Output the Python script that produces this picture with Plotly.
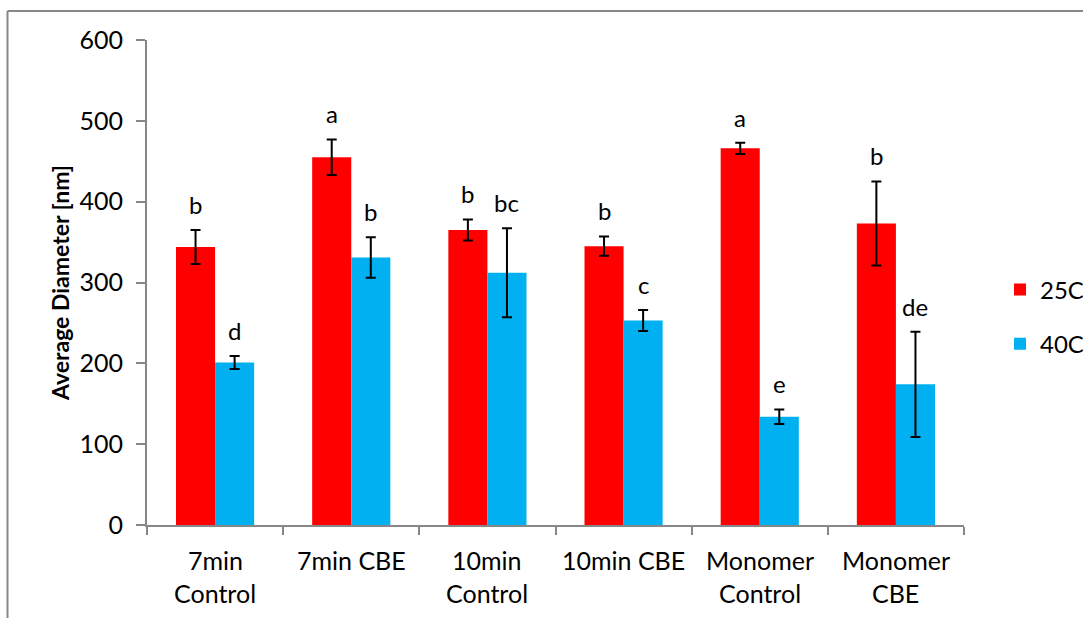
import plotly.graph_objects as go

categories = ["7min\nControl", "7min CBE", "10min\nControl", "10min CBE", "Monomer\nControl", "Monomer\nCBE"]
series_names = ["25C", "40C"]
values_25 = [344, 455, 365, 345, 466, 373]
errors_25 = [21, 22, 13, 12, 7, 52]
values_40 = [201, 331, 312, 253, 134, 174]
errors_40 = [8, 25, 55, 13, 9, 65]
letters_25 = ["b", "a", "b", "b", "a", "b"]
letters_40 = ["d", "b", "bc", "c", "e", "de"]
y_ticks = [0, 100, 200, 300, 400, 500, 600]

FONT = "Lato"
RED = "#FF0000"
BLUE = "#00B0F0"
GRAY = "#878787"

W, H = 1083, 618
L, R, T, B = 147, 119, 40, 93
PW, PH = W - L - R, H - T - B

fig = go.Figure()
fig.add_trace(go.Bar(
    x=categories, y=values_25, name=series_names[0], marker=dict(color=RED, line=dict(width=0)),
    error_y=dict(type="data", array=errors_25, color="black", thickness=2, width=5),
    legendgroup="a"))
fig.add_trace(go.Bar(
    x=categories, y=values_40, name=series_names[1], marker=dict(color=BLUE, line=dict(width=0)),
    error_y=dict(type="data", array=errors_40, color="black", thickness=2, width=5),
    legendgroup="b"))

annotations = []
barw_px = PW / len(categories) * (1 - 0.426) / 2
for i, c in enumerate(categories):
    for vals, errs, letters, sgn in ((values_25, errors_25, letters_25, -1), (values_40, errors_40, letters_40, 1)):
        annotations.append(dict(
            x=c, y=vals[i] + errs[i], xref="x", yref="y", text=letters[i], showarrow=False,
            xshift=sgn * barw_px / 2, yshift=9, yanchor="bottom",
            font=dict(family=FONT, size=24, color="black")))
    lines = c.split("\n")
    for j, ln in enumerate(lines):
        ypx = 560 + 33 * j
        annotations.append(dict(
            x=c, y=(T + PH - ypx) / PH, xref="x", yref="paper", text=ln, showarrow=False,
            yanchor="middle", font=dict(family=FONT, size=25, color="black")))

shapes = [
    dict(type="line", xref="paper", yref="paper",
         x0=(7.5 - L) / PW, x1=(W - L) / PW, y0=(T + PH - 11) / PH, y1=(T + PH - 11) / PH,
         line=dict(color=GRAY, width=2)),
    dict(type="line", xref="paper", yref="paper",
         x0=(7.5 - L) / PW, x1=(7.5 - L) / PW, y0=(T + PH - 11) / PH, y1=(T + PH - H - 5) / PH,
         line=dict(color=GRAY, width=2)),
]

fig.update_layout(
    width=W, height=H,
    margin=dict(l=L, r=R, t=T, b=B, pad=0, autoexpand=False),
    paper_bgcolor="white", plot_bgcolor="white",
    barmode="group", bargap=0.426, bargroupgap=0,
    font=dict(family=FONT, size=24, color="black"),
    showlegend=True,
    legend=dict(x=(1000 - L) / PW, y=(T + PH - 317) / PH, xanchor="left", yanchor="middle",
                font=dict(family=FONT, size=24, color="black"), tracegroupgap=20,
                bgcolor="rgba(0,0,0,0)"),
    annotations=annotations,
    shapes=shapes,
)
fig.update_xaxes(
    type="category", showticklabels=False, tickson="boundaries", ticks="outside", ticklen=8,
    tickcolor=GRAY, tickwidth=2, showline=True, linecolor=GRAY, linewidth=2, showgrid=False,
    zeroline=False)
fig.update_yaxes(
    range=[0, 600], tickvals=y_ticks, ticks="outside", ticklen=9, tickcolor=GRAY, tickwidth=2,
    showline=True, linecolor=GRAY, linewidth=2, showgrid=False, zeroline=False,
    tickfont=dict(family=FONT, size=25, color="black"), ticklabelstandoff=8,
    title=dict(text="<b>Average Diameter [nm]</b>", font=dict(family=FONT, size=23, color="black"),
               standoff=3))

fig.write_html("out.html")
